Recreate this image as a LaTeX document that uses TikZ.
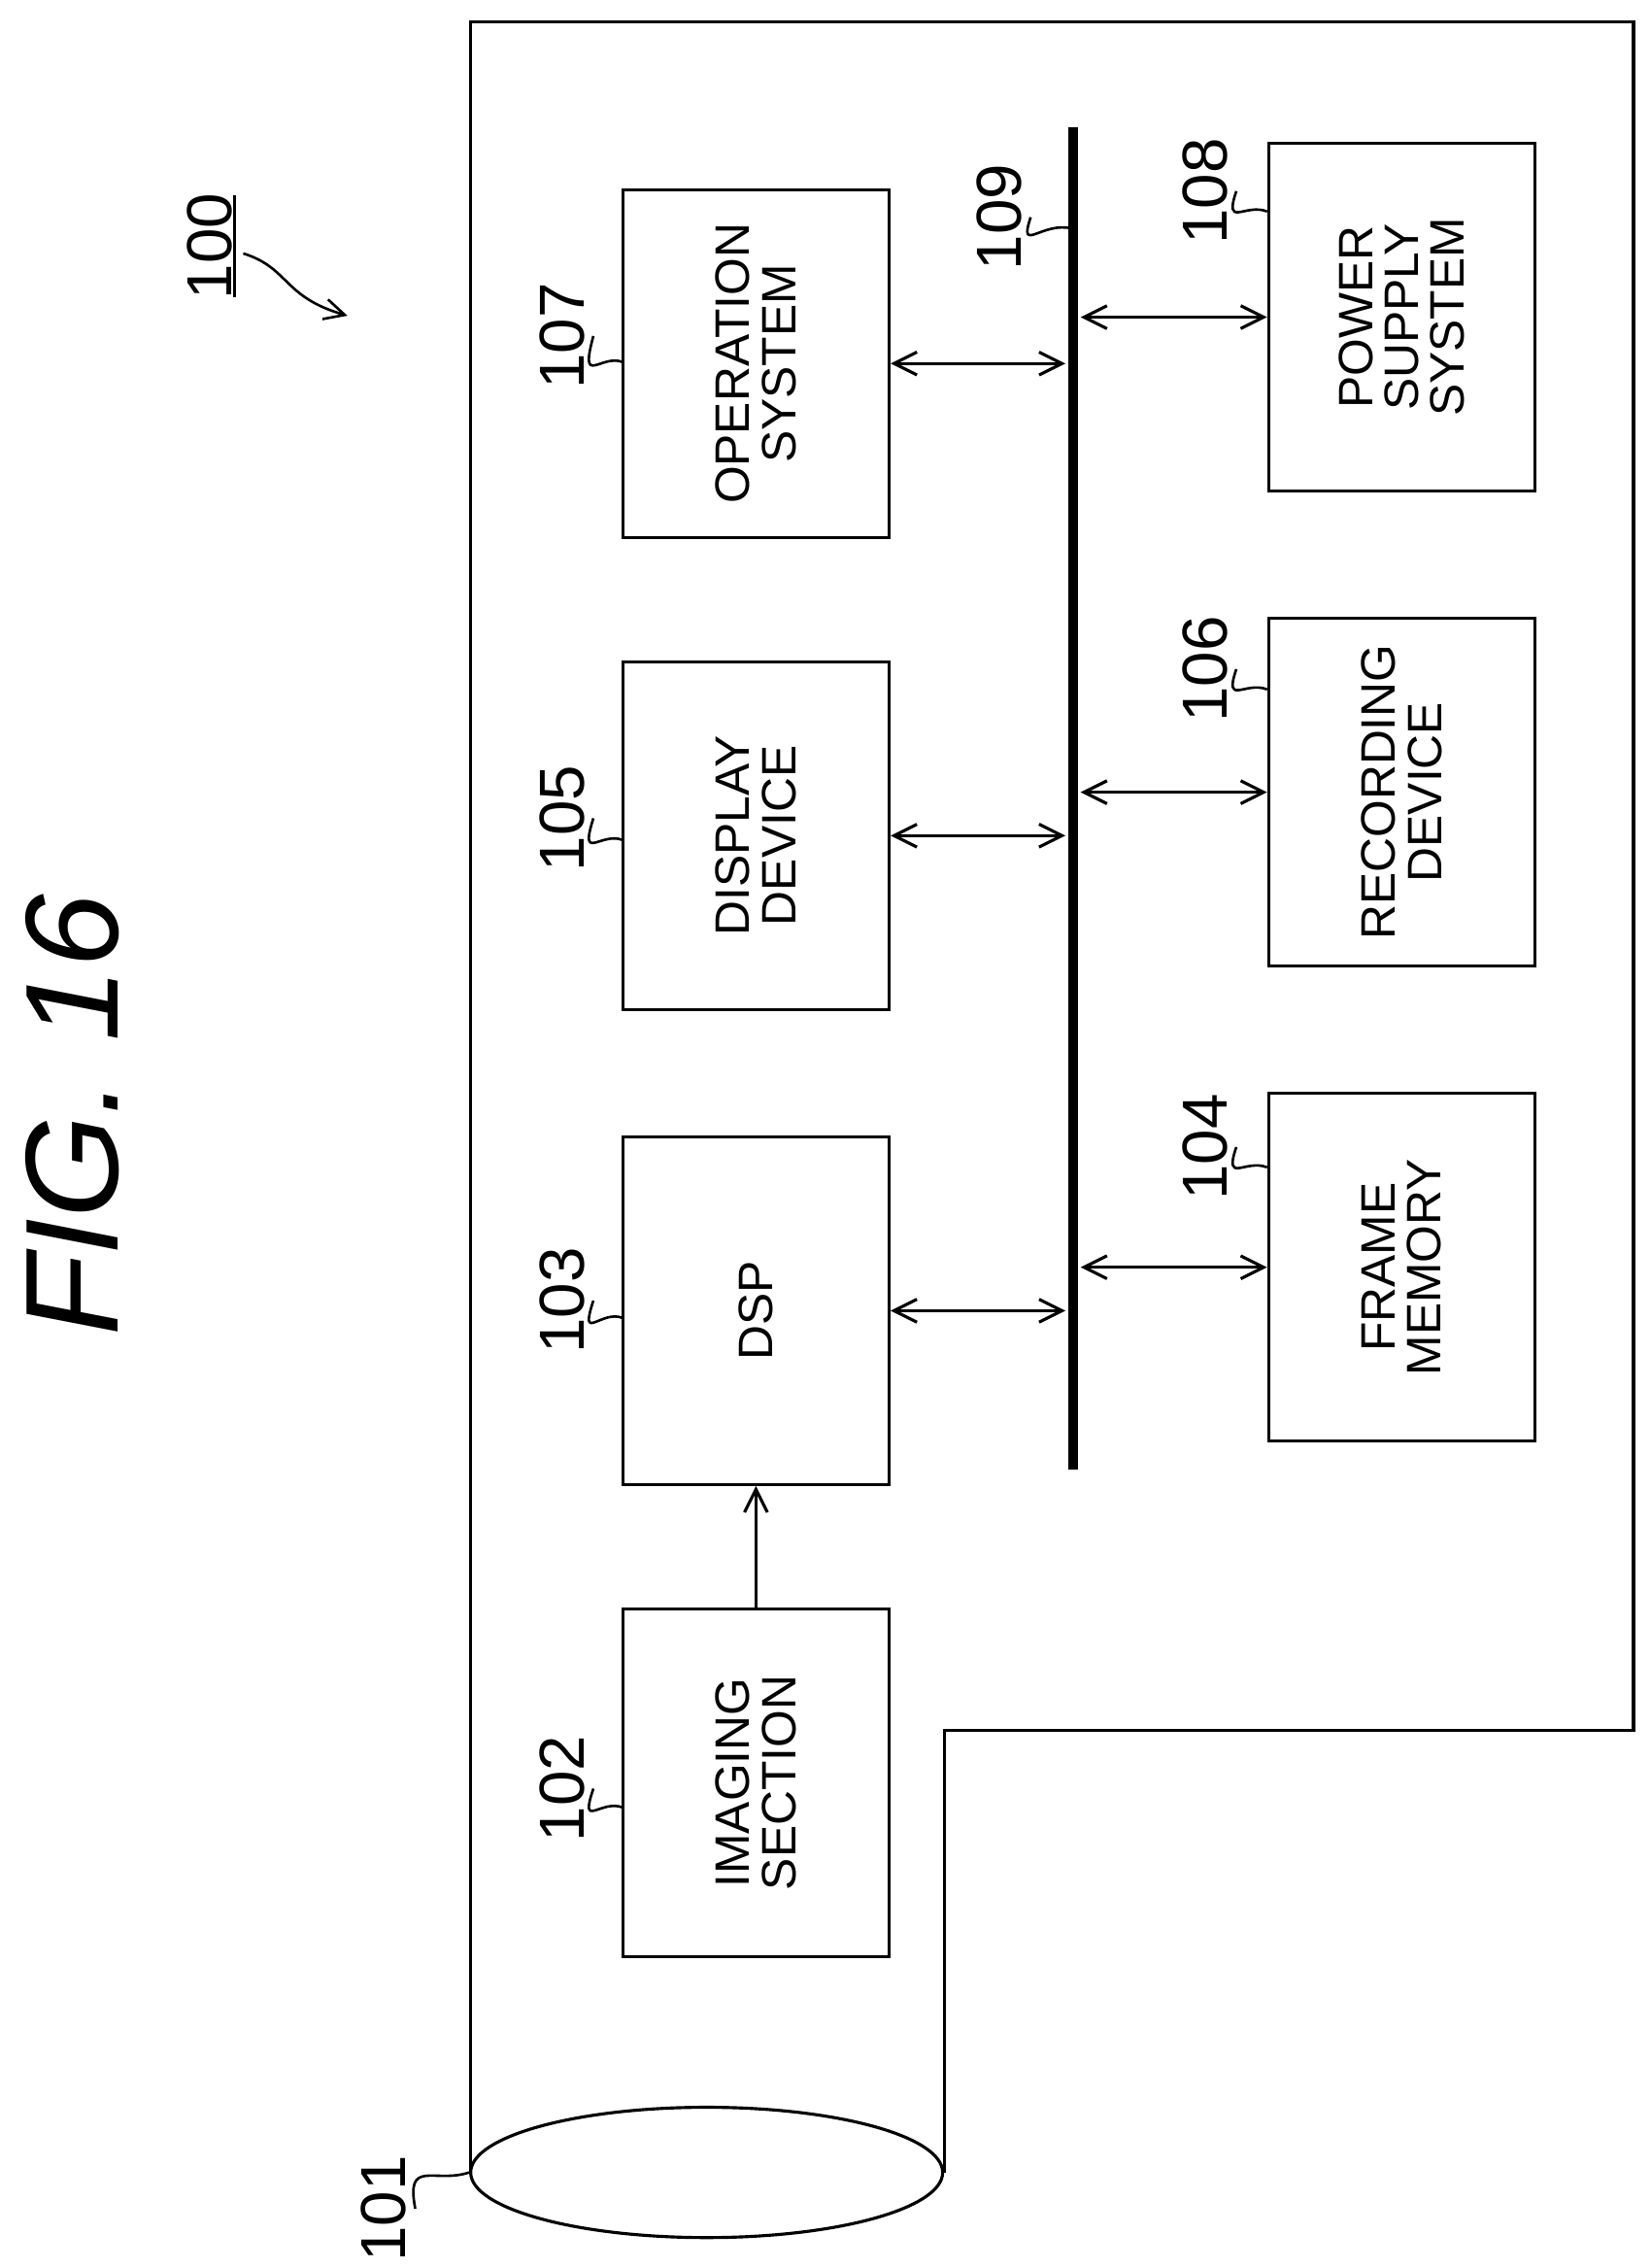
\documentclass[tikz,border=0pt]{standalone}
\usepackage{fontspec}
\setmainfont{Liberation Sans}
\usetikzlibrary{arrows.meta,shapes.geometric}
\begin{document}
\begin{tikzpicture}[x=0.02cm,y=-0.02cm,
  box/.style={draw,line width=1.2pt,minimum width=3.68cm,minimum height=4.8cm,inner sep=0pt},
  lbl/.style={rotate=90,align=center,font=\fontsize{19}{18}\selectfont},
  num/.style={rotate=90,font=\fontsize{25}{25}\selectfont},
  arr/.style={{Straight Barb[length=9pt,width=9pt]}-{Straight Barb[length=9pt,width=9pt]},line width=1.2pt},
  lead/.style={line width=1pt}]
\useasboundingbox (0,0) rectangle (1140,1566);
% outline
\coordinate (o1) at (325,1500);
\coordinate (o2) at (325,15);
\coordinate (o3) at (1128,15);
\coordinate (o4) at (1128,1195);
\coordinate (o5) at (652,1195);
\coordinate (o6) at (652,1500);
\draw[line width=1.2pt] (o1) -- (o2) -- (o3) -- (o4) -- (o5) -- (o6);
\node[draw,line width=1.2pt,ellipse,minimum width=6.52cm,minimum height=1.8cm,inner sep=0pt] (lens) at (488,1500) {};
% boxes
\node[box] (b107) at (522,251) {}; \node[lbl] at (b107) {OPERATION\\SYSTEM};
\node[box] (b105) at (522,577) {}; \node[lbl] at (b105) {DISPLAY\\DEVICE};
\node[box] (b103) at (522,905) {}; \node[lbl] at (b103) {DSP};
\node[box] (b102) at (522,1231) {}; \node[lbl] at (b102) {IMAGING\\SECTION};
\node[box] (b108) at (968,219) {}; \node[lbl] at (b108) {POWER\\SUPPLY\\SYSTEM};
\node[box] (b106) at (968,547) {}; \node[lbl] at (b106) {RECORDING\\DEVICE};
\node[box] (b104) at (968,875) {}; \node[lbl] at (b104) {FRAME\\MEMORY};
% bus
\coordinate (bt) at (741,88);
\coordinate (bb) at (741,1015);
\draw[line width=4pt] (bt) -- (bb);
\draw[arr] (b107.east) -- ([xshift=-3pt]b107.east -| bt);
\draw[arr] (b105.east) -- ([xshift=-3pt]b105.east -| bt);
\draw[arr] (b103.east) -- ([xshift=-3pt]b103.east -| bt);
\draw[arr] ([xshift=3pt]b108.west -| bt) -- (b108.west);
\draw[arr] ([xshift=3pt]b106.west -| bt) -- (b106.west);
\draw[arr] ([xshift=3pt]b104.west -| bt) -- (b104.west);
\draw[line width=1.2pt,-{Straight Barb[length=9pt,width=9pt]}] (b102.north) -- (b103.south);
% labels
\node[num] (n107) at (388,232) {107};
\draw[lead] (n107.south) .. controls (400,268) and (415,244) .. (430,250);
\node[num] (n105) at (388,565) {105};
\draw[lead] (n105.south) .. controls (400,596) and (415,574) .. (430,580);
\node[num] (n103) at (388,898) {103};
\draw[lead] (n103.south) .. controls (400,928) and (415,904) .. (430,910);
\node[num] (n102) at (388,1235) {102};
\draw[lead] (n102.south) .. controls (400,1264) and (415,1242) .. (430,1248);
\node[num] (n108) at (832,132) {108};
\draw[lead] (n108.south) .. controls (845,158) and (860,140) .. (875,146);
\node[num] (n106) at (832,462) {106};
\draw[lead] (n106.south) .. controls (845,488) and (860,470) .. (875,476);
\node[num] (n104) at (832,792) {104};
\draw[lead] (n104.south) .. controls (845,818) and (860,800) .. (875,806);
\node[num] (n109) at (690,150) {109};
\draw[lead] (n109.south) .. controls (703,176) and (720,152) .. (741,158);
\node[num] (n101) at (265,1525) {101};
\draw[lead] (n101.south) .. controls (280,1490) and (300,1508) .. (lens.west);
\node[num] (n100) at (145,170) {100};
\draw[line width=1.2pt] (162,135) -- (162,205);
\coordinate (a100) at (240,218);
\draw[lead,-{Straight Barb[length=8pt,width=8pt]}] (168,175) .. controls (200,185) and (195,205) .. (a100);
\node[rotate=90,font=\fontsize{52}{52}\selectfont\itshape] (title) at (50,770) {FIG. 16};
\end{tikzpicture}
\end{document}
